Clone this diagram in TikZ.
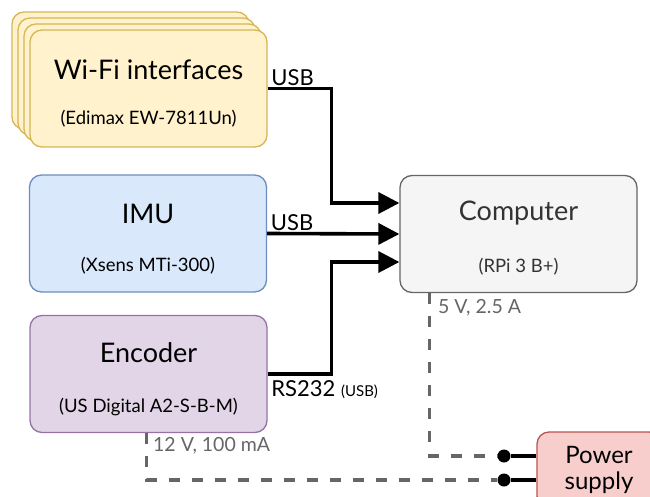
\documentclass[tikz,border=0pt]{standalone}
\usepackage{fontspec}
\setmainfont{Lato}
\usetikzlibrary{positioning,calc,arrows.meta}

\definecolor{wifiFill}{HTML}{FFF2CC}
\definecolor{wifiLine}{HTML}{D6B656}
\definecolor{imuFill}{HTML}{DAE8FC}
\definecolor{imuLine}{HTML}{6C8EBF}
\definecolor{encFill}{HTML}{E1D5E7}
\definecolor{encLine}{HTML}{9673A6}
\definecolor{compFill}{HTML}{F5F5F5}
\definecolor{compLine}{HTML}{666666}
\definecolor{compText}{HTML}{333333}
\definecolor{pwrFill}{HTML}{F8CECC}
\definecolor{pwrLine}{HTML}{B85450}
\definecolor{wire}{HTML}{666666}

\begin{document}
\begin{tikzpicture}[x=1pt,y=-1pt,
box/.style={draw,rounded corners=12pt,line width=1.3pt,minimum width=237pt,minimum height=117pt},
title/.style={font=\fontsize{27}{32}\selectfont},
sub/.style={font=\fontsize{18.5}{22}\selectfont},
edge/.style={line width=3.6pt,-{Triangle[length=21pt,width=21pt]}},
plain/.style={line width=3.6pt},
pwr/.style={draw=wire,line width=3.6pt,dash pattern=on 11pt off 12pt},
tag/.style={font=\fontsize{22}{26}\selectfont,inner sep=2pt},
volt/.style={font=\fontsize{19.5}{23}\selectfont,text=wire,inner sep=2pt},
dot/.style={circle,fill=black,minimum size=13pt,inner sep=0pt}]

\useasboundingbox (0,0) rectangle (650,497);
\clip (0,0) rectangle (650,497);

% stacked wifi cards
\foreach \d in {18,12,6}
  \node[box,draw=wifiLine,fill=wifiFill] at (148.5-\d,88.5-\d) {};

% boxes
\node[box,draw=wifiLine,fill=wifiFill] (wifi) at (148.5,88.5) {};
\node[box,draw=imuLine,fill=imuFill] (imu) at (148,233.5) {};
\node[box,draw=encLine,fill=encFill] (enc) at (148.5,374) {};
\node[box,draw=compLine,fill=compFill] (comp) at (518.5,234) {};
\node[draw=pwrLine,fill=pwrFill,rounded corners=12pt,line width=1.3pt,minimum width=124pt,minimum height=76pt,
  align=center,font=\fontsize{24}{26}\selectfont] (power) at (599,470) {Power\\supply};

% box texts
\node[title] (wifiT) at ($(wifi.center)+(0,-19)$) {Wi-Fi interfaces};
\node[sub] (wifiS) at ($(wifi.center)+(0,30)$) {(Edimax EW-7811Un)};
\node[title] (imuT) at ($(imu.center)+(0,-20)$) {IMU};
\node[sub] (imuS) at ($(imu.center)+(0,32)$) {(Xsens MTi-300)};
\node[title] (encT) at ($(enc.center)+(0,-21)$) {Encoder};
\node[sub] (encS) at ($(enc.center)+(0,33)$) {(US Digital A2-S-B-M)};
\node[title,text=compText] (compT) at ($(comp.center)+(0,-21)$) {Computer};
\node[sub,text=compText] (compS) at ($(comp.center)+(0,33)$) {(RPi 3 B+)};

% connector points
\coordinate (in1) at ($(comp.west)+(0,-31)$);
\coordinate (in3) at ($(comp.west)+(0,28)$);
\coordinate (cpow) at ($(comp.south west)+(30,0)$);
\coordinate (epow) at ($(enc.south west)+(117,0)$);
\node[dot] (d1) at (504,456) {};
\node[dot] (d2) at (504,480) {};

% edges
\draw[edge] (wifi.east) -- ++(64,0) node[pos=0,above right,tag,yshift=-1pt] {USB} |- (in1);
\draw[edge] (imu.east) -- (comp.west) node[pos=0,above right,tag,yshift=-1pt] {USB};
\draw[edge] (enc.east) -- ++(64,0) node[pos=0,below right,tag,yshift=-3pt] {RS232 {\fontsize{15}{18}\selectfont (USB)}} |- (in3);

% power
\draw[pwr] (cpow) |- (d1) node[pos=0,below right,volt,xshift=5pt,yshift=-2pt] {5 V, 2.5 A};
\draw[pwr] (epow) |- (d2) node[pos=0,below right,volt,xshift=3pt,yshift=0pt] {12 V, 100 mA};
\draw[plain] (d1) -- (d1 -| power.west);
\draw[plain] (d2) -- (d2 -| power.west);
\end{tikzpicture}
\end{document}
